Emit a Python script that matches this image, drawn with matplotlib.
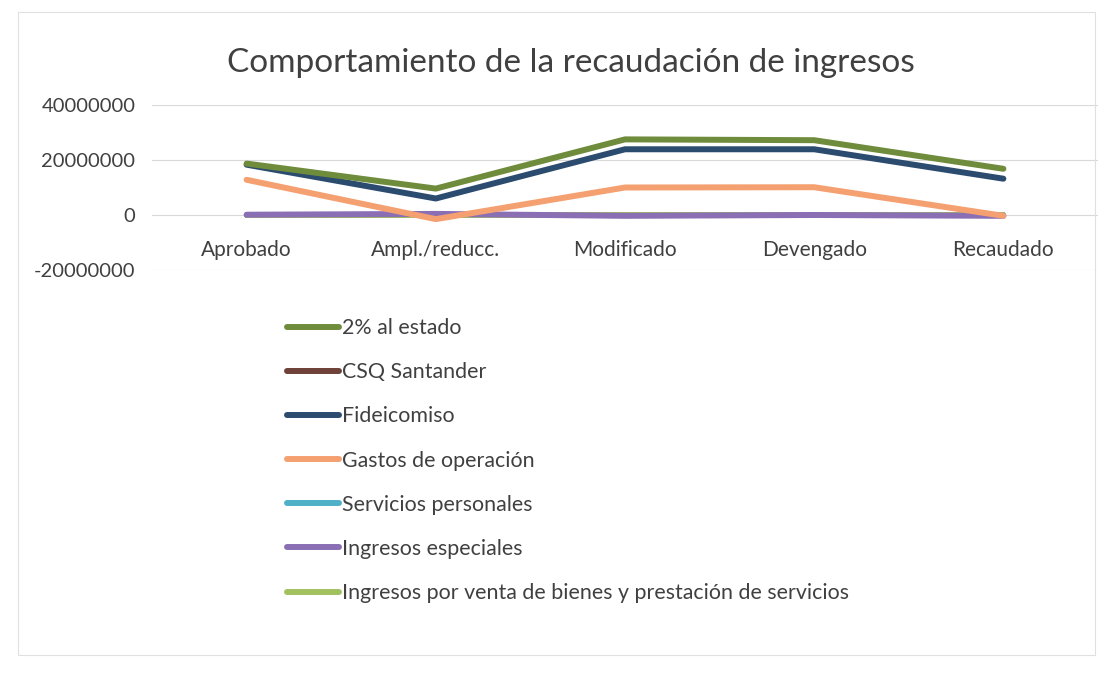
import matplotlib.pyplot as plt
from matplotlib.patches import Rectangle

plt.rcParams['font.family'] = ['Lato', 'DejaVu Sans']

etapas = ["Aprobado", "Ampl./reducc.", "Modificado", "Devengado", "Recaudado"]

# valores (aprox.)
estado_2 = [18700000, 9600000, 27500000, 27200000, 16800000]
csq_santander = [0, 0, 0, 0, 0]
fideicomiso = [18300000, 6000000, 23900000, 23900000, 13200000]
gastos_operacion = [12800000, -1500000, 10000000, 10100000, -300000]
servicios_personales = [0, 0, 0, 0, 0]
ingresos_especiales = [100000, 400000, -300000, 0, -300000]
ingresos_venta = [0, 0, 0, 0, 0]

series = [
    ("2% al estado", estado_2, "#6f8c3c", 6),
    ("CSQ Santander", csq_santander, "#6e4238", 1),
    ("Fideicomiso", fideicomiso, "#2b4b6f", 5),
    ("Gastos de operación", gastos_operacion, "#f5a070", 4),
    ("Servicios personales", servicios_personales, "#4fb0c8", 1),
    ("Ingresos especiales", ingresos_especiales, "#8a6fb5", 3),
    ("Ingresos por venta de bienes y prestación de servicios", ingresos_venta, "#a3c060", 1),
]

fig = plt.figure(figsize=(11.11, 6.73), dpi=100)
ax = fig.add_axes([152/1111, 1-270/673, (1098-152)/1111, (270-105)/673])

x = list(range(len(etapas)))
for nombre, vals, color, z in series:
    ax.plot(x, vals, color=color, lw=4.3, label=nombre, zorder=z,
            solid_capstyle='round', solid_joinstyle='round')

ax.set_xlim(-0.5, len(etapas)-0.5)
ax.set_ylim(-20000000, 40000000)
ax.set_yticks([-20000000, 0, 20000000, 40000000])
ax.set_yticklabels(["-20000000", "0", "20000000", "40000000"])
ax.grid(axis='y', color='#d9d9d9', lw=0.8)
ax.set_axisbelow(True)
for s in ax.spines.values():
    s.set_visible(False)
ax.spines['bottom'].set_position(('data', 0))
ax.set_xticks(x, etapas)
ax.tick_params(axis='x', length=0, pad=18, labelsize=15, labelcolor='#404040')
ax.tick_params(axis='y', length=0, pad=12, labelsize=14.5, labelcolor='#404040')

fig.text(571/1111, 1-63/673, "Comportamiento de la recaudación de ingresos",
         ha='center', va='center', fontsize=24, color='#404040')

ax.legend(loc='upper left', bbox_to_anchor=(287/1111, 1-318/673),
          bbox_transform=fig.transFigure, frameon=False, fontsize=15.4,
          handlelength=2.45, handletextpad=0.1, labelspacing=1.13,
          borderpad=0, borderaxespad=0, labelcolor='#404040')

fig.patches.append(Rectangle((18/1111, 1-655/673), (1095-18)/1111, (655-12)/673,
                             transform=fig.transFigure, fill=False,
                             edgecolor='#e0e0e0', lw=0.8))

fig.savefig("out.png", dpi=100)
